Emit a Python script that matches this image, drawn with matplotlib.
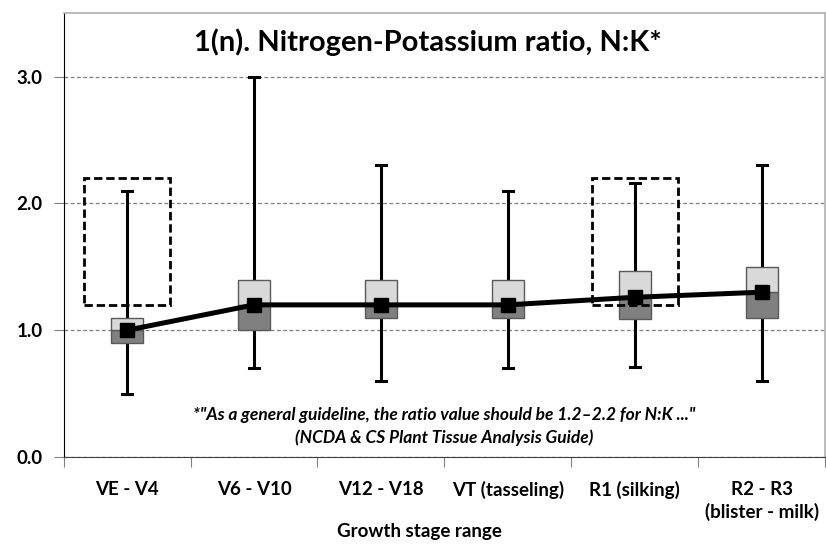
import matplotlib
matplotlib.use("Agg")
import matplotlib.pyplot as plt
from matplotlib.patches import Rectangle

plt.rcParams["font.family"] = ["Lato", "DejaVu Sans"]

# Data
stages = ["VE - V4", "V6 - V10", "V12 - V18", "VT (tasseling)", "R1 (silking)",
          "R2 - R3\n(blister - milk)"]
mins = [0.5, 0.7, 0.6, 0.7, 0.71, 0.6]
q1 = [0.9, 1.0, 1.1, 1.1, 1.09, 1.1]
medians = [1.0, 1.2, 1.2, 1.2, 1.26, 1.3]
q3 = [1.1, 1.4, 1.4, 1.4, 1.47, 1.5]
maxs = [2.1, 3.0, 2.3, 2.1, 2.16, 2.3]

# Guideline range 1.2-2.2 marked at these stages
guide_stages = [0, 4]
guide_low, guide_high = 1.2, 2.2


def main():
    fig = plt.figure(figsize=(8.26, 5.5), dpi=100)
    ax = fig.add_axes([0.077, 0.169, 0.922, 0.807])

    x = list(range(len(stages)))
    box_w = 0.25

    # Whiskers
    for i in x:
        ax.plot([i, i], [mins[i], maxs[i]], color="black", lw=2.2, zorder=2,
                solid_capstyle="butt")
        for v in (mins[i], maxs[i]):
            ax.plot([i - 0.04, i + 0.04], [v, v], color="black", lw=2.2, zorder=2)

    # Boxes (lower = dark, upper = light)
    for i in x:
        ax.add_patch(Rectangle((i - box_w / 2, q1[i]), box_w, medians[i] - q1[i],
                               facecolor="#808080", edgecolor="#595959", lw=1,
                               zorder=3))
        ax.add_patch(Rectangle((i - box_w / 2, medians[i]), box_w, q3[i] - medians[i],
                               facecolor="#d9d9d9", edgecolor="#595959", lw=1,
                               zorder=3))

    # Guideline dashed boxes
    for i in guide_stages:
        ax.add_patch(Rectangle((i - 0.34, guide_low), 0.68, guide_high - guide_low,
                               fill=False, edgecolor="black", lw=2,
                               linestyle=(0, (3, 1.4)), zorder=4))

    # Median line
    ax.plot(x, medians, color="black", lw=3.6, marker="s", markersize=10,
            zorder=5)

    ax.set_xlim(-0.5, len(stages) - 0.5)
    ax.set_ylim(0, 3.5)
    ax.set_yticks([0, 1, 2, 3])
    ax.set_yticklabels(["0.0", "1.0", "2.0", "3.0"], fontsize=13.5, fontweight="bold")
    ax.set_xticks([i + 0.5 for i in range(-1, len(stages))], minor=False)
    ax.set_xticklabels([])
    ax.set_xticks(x, minor=True)
    ax.set_xticklabels(stages, minor=True, fontsize=13.5, fontweight="bold",
                       linespacing=1.35)
    ax.tick_params(axis="x", which="minor", length=0, pad=17)
    ax.tick_params(axis="x", which="major", length=7, color="#808080")
    ax.tick_params(axis="y", length=7, color="#808080", pad=8)

    ax.grid(axis="y", color="#7f7f7f", linestyle=(0, (3, 2)), lw=0.9)
    ax.set_axisbelow(True)

    for s in ("top", "right"):
        ax.spines[s].set_color("#b0b0b0")
        ax.spines[s].set_linewidth(1.2)
    ax.spines["left"].set_color("black")
    ax.spines["bottom"].set_color("#404040")

    fig.text(0.518, 0.923, "1(n). Nitrogen-Potassium ratio, N:K*",
             ha="center", va="center", fontsize=21, fontweight="bold")
    ax.text(2.5, 0.33,
            '*"As a general guideline, the ratio value should be 1.2–2.2 for N:K ..."',
            ha="center", va="center", fontsize=12.5, fontweight="bold", style="italic")
    ax.text(2.5, 0.15, "(NCDA & CS Plant Tissue Analysis Guide)", ha="center",
            va="center", fontsize=12.5, fontweight="bold", style="italic")

    fig.text(0.508, 0.034, "Growth stage range", ha="center", va="center",
             fontsize=13.5, fontweight="bold")

    fig.savefig("out.png", dpi=100)


main()
